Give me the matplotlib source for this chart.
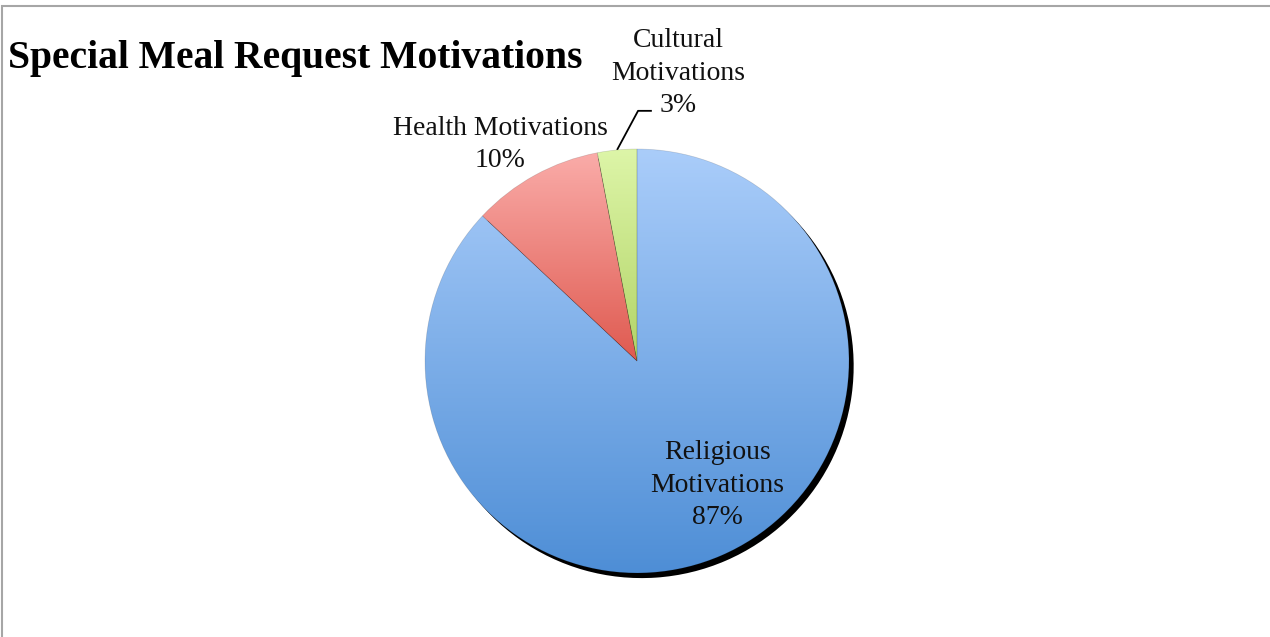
import numpy as np
import matplotlib
matplotlib.use("Agg")
import matplotlib.pyplot as plt
from matplotlib.colors import to_rgb
from matplotlib.patches import Rectangle

# ---- data ----
categories = ["Religious\nMotivations", "Health Motivations", "Cultural\nMotivations"]
values = [87, 10, 3]
pct_labels = ["87%", "10%", "3%"]
title = "Special Meal Request Motivations"

# ---- style ----
top_colors = ["#aacdfa", "#faaca9", "#ddf5a8"]
bot_colors = ["#4e8ed6", "#df5a50", "#b2d467"]
serif = ["Liberation Serif", "DejaVu Serif"]

W, H = 1270, 637
fig = plt.figure(figsize=(W / 100, H / 100), dpi=100)
fig.patch.set_facecolor("white")

# pie geometry (pixels)
cx, cy, R = 637, 361, 212
ax = fig.add_axes([(cx - R) / W, (H - cy - R) / H, 2 * R / W, 2 * R / H])
ax.axis("off")

# shadow pie
ax.pie(values, colors=["black"] * len(values), startangle=90, counterclock=False,
       center=(0.022, -0.024), radius=1.0, frame=False,
       wedgeprops=dict(linewidth=0, zorder=0))

wedges, _ = ax.pie(values, colors=top_colors, startangle=90, counterclock=False,
                   radius=1.0, frame=False,
                   wedgeprops=dict(linewidth=0.5, edgecolor=(0, 0, 0, 0.15), zorder=2))

# vertical gradients clipped to each wedge
for w, c0, c1 in zip(wedges, top_colors, bot_colors):
    ext = w.get_path().get_extents()
    n = 256
    t = np.linspace(0, 1, n)[:, None]
    a, b = np.array(to_rgb(c0)), np.array(to_rgb(c1))
    grad = (a[None, :] * (1 - t) + b[None, :] * t)[:, None, :]
    im = ax.imshow(grad, extent=(ext.x0, ext.x1, ext.y0, ext.y1), origin="upper",
                   aspect="auto", zorder=2.5, interpolation="bilinear")
    im.set_clip_path(w)
    w.set_facecolor("none")
    w.set_zorder(3)

ax.set_xlim(-1, 1)
ax.set_ylim(-1, 1)
ax.set_aspect("equal")

fs = 20
ls = 1.38
# labels
ax.text(0.38, -0.585, categories[0] + "\n" + pct_labels[0], ha="center", va="center",
        fontsize=fs, family=serif, linespacing=ls, color="#111111", zorder=5)
ax.text(-0.646, 1.02, categories[1] + "\n" + pct_labels[1], ha="center", va="center",
        fontsize=fs, family=serif, linespacing=ls, color="#111111", clip_on=False)
ax.text(0.193, 1.358, categories[2] + "\n" + pct_labels[2], ha="center", va="center",
        fontsize=fs, family=serif, linespacing=ls, color="#111111", clip_on=False)

# leader line for the small slice
ang = np.deg2rad(90 + 360 * (values[2] / 2) / sum(values))
x0, y0 = np.cos(ang), np.sin(ang)
ax.plot([x0, 0.005, 0.07], [y0, 1.18, 1.18], color="black", lw=1.3, clip_on=False,
        solid_capstyle="butt")

# title
fig.text(8 / W, 1 - 68 / H, title, ha="left", va="baseline", fontsize=28.5,
         fontweight="bold", family=serif, color="black")

# chart border
fig.patches.append(Rectangle((1.5 / W, -0.1), 1.2, 1 - 6 / H + 0.1, transform=fig.transFigure,
                             fill=False, edgecolor="#a6a6a6", linewidth=1.5))

fig.savefig("out.png", dpi=100)
